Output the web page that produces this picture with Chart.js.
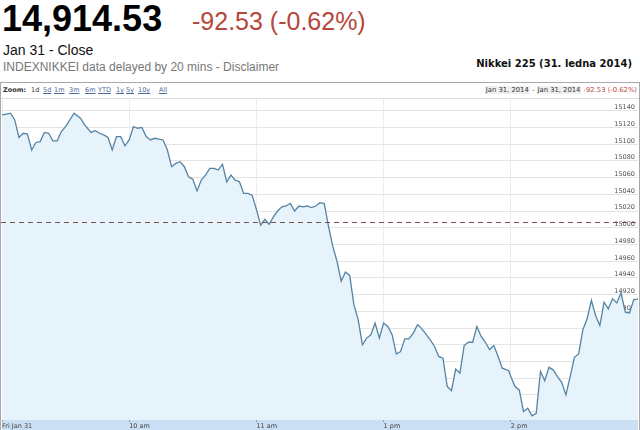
<!DOCTYPE html>
<html><head><meta charset="utf-8">
<script src="https://cdn.jsdelivr.net/npm/chart.js@4/dist/chart.umd.min.js"></script>
<style>
body{margin:0;width:640px;height:430px;overflow:hidden;background:#fff;font-family:"Liberation Sans",Arial,sans-serif;position:relative}
.a{position:absolute;white-space:nowrap}
.s{font-family:"DejaVu Sans",Verdana,sans-serif;font-size:6.5px;line-height:15px;top:83px;color:#333}
.r{font-size:6.8px}
.l{color:#4a6a9c;text-decoration:underline}
.box{background:#efefef;padding:0 1px}
#wrap{position:absolute;left:0;top:82px;width:638px;height:347px;border:1px solid #a8a8a8;border-bottom:none}
#hdr{position:absolute;left:0;top:0;width:638px;height:15px;border-bottom:1px solid #dedede}
#cv{position:absolute;left:0;top:16px}
</style></head><body>
<div class="a" style="left:2px;top:1px;font-size:36px;line-height:36px;font-weight:bold;color:#000">14,914.53</div>
<div class="a" style="left:192px;top:9px;font-size:25px;line-height:25px;color:#b5473b">-92.53 (-0.62%)</div>
<div class="a" style="left:3px;top:43px;font-size:14px;line-height:14px;color:#111">Jan 31 - Close</div>
<div class="a" style="left:3px;top:61px;font-size:12px;line-height:12px;color:#777">INDEXNIKKEI data delayed by 20 mins - Disclaimer</div>
<div class="a" style="right:8px;top:59px;font-family:'DejaVu Sans',Verdana,sans-serif;font-weight:bold;font-size:10px;line-height:10px;color:#111">Nikkei 225 (31. ledna 2014)</div>
<div id="wrap"><div id="hdr"></div><canvas id="cv" width="638" height="331" style="width:638px;height:331px"></canvas></div>
<div class="a s" style="left:3px;font-weight:bold">Zoom:</div>
<div class="a s" style="left:31px">1d</div>
<div class="a s l" style="left:43px">5d</div>
<div class="a s l" style="left:54px">1m</div>
<div class="a s l" style="left:69px">3m</div>
<div class="a s l" style="left:85px">6m</div>
<div class="a s l" style="left:98px">YTD</div>
<div class="a s l" style="left:116px">1y</div>
<div class="a s l" style="left:126px">5y</div>
<div class="a s l" style="left:138px">10y</div>
<div class="a s l" style="left:159px">All</div>
<div class="a s r" style="right:3px"><span class="box">Jan 31, 2014</span> - <span class="box">Jan 31, 2014</span> <span style="color:#b5473b">-92.53 (-0.62%)</span></div>
<script>
// trading minutes since 9:00 (lunch break removed)
const minutes = [0,2,4,6,8,10,12,14,16,18,20,22,24,26,28,30,34,37,39,42,44,46,48,50,52,54,56,58,60,62,64,66,68,70,72,74,76,78,80,82,84,86,88,90,92,94,96,98,100,102,104,106,108,110,112,114,116,118,120,122,124,126,128,130,132,134,136,138,140,142,144,146,148,150,152,154,156,158,160,162,164,166,168,170,172,174,176,178,180,182,184,186,188,190,192,194,196,197,199,202,204,206,208,210,212,214,216,218,220,222,224,226,228,230,232,234,236,239,240,242,244,246,248,250,252,254,256,258,260,262,264,266,268,270,272,274,276,278,280,282,284,286,288,290,292,294,296,298,300];
const prices = [15135,15136,15137,15129,15108,15113,15112,15093,15102,15103,15114,15113,15104,15104,15115,15121,15137,15131,15123,15114,15116,15113,15111,15108,15093,15109,15109,15098,15105,15121,15119,15120,15109,15105,15107,15106,15105,15093,15073,15077,15079,15073,15061,15058,15044,15057,15063,15071,15071,15069,15076,15055,15063,15057,15055,15041,15041,15039,15022,15003,15010,15004,15013,15020,15025,15026,15029,15020,15026,15025,15026,15024,15026,15030,15029,15002,14978,14960,14936,14947,14943,14908,14890,14860,14868,14872,14886,14868,14886,14882,14872,14849,14852,14867,14867,14874,14884,14882,14876,14866,14858,14846,14844,14810,14805,14831,14826,14859,14863,14863,14882,14870,14863,14854,14859,14846,14832,14829,14822,14810,14806,14780,14784,14775,14778,14828,14817,14833,14830,14822,14815,14800,14822,14845,14849,14878,14891,14913,14895,14883,14911,14903,14915,14910,14922,14899,14898,14914,14914.53];
const prevClose = 15007.06;
const xTickMinutes = [0,60,120,180,240];
const xTickLabels = ['Fri Jan 31','10 am','11 am','1 pm','2 pm'];
const yTickValues = [14780,14800,14820,14840,14860,14880,14900,14920,14940,14960,14980,15000,15020,15040,15060,15080,15100,15120,15140];

const prevClosePlugin = {
  id: 'prevClose',
  afterDatasetsDraw(chart) {
    const {ctx, chartArea, scales} = chart;
    const y = Math.round(scales.y.getPixelForValue(prevClose)) + 0.5;
    ctx.save();
    ctx.strokeStyle = '#7a5252';
    ctx.lineWidth = 1;
    ctx.setLineDash([5, 4]);
    ctx.beginPath();
    ctx.moveTo(0, y);
    ctx.lineTo(chartArea.right, y);
    ctx.stroke();
    ctx.restore();
  }
};

const noPad = s => { s.paddingTop = 0; s.paddingBottom = 0; s.paddingLeft = 0; s.paddingRight = 0; };

new Chart(document.getElementById('cv'), {
  type: 'line',
  data: {
    datasets: [{
      data: minutes.map((m, i) => ({x: m, y: prices[i]})),
      borderColor: '#5583a3',
      borderWidth: 1.3,
      pointRadius: 0,
      tension: 0,
      fill: 'start',
      backgroundColor: '#e6f3fb'
    }]
  },
  options: {
    responsive: false,
    animation: false,
    layout: {padding: {left: 1, right: 1, top: 0, bottom: 0}},
    plugins: {legend: {display: false}, tooltip: {enabled: false}},
    scales: {
      x: {
        type: 'linear', min: 0, max: 300,
        backgroundColor: '#cadff3',
        afterBuildTicks: s => { s.ticks = xTickMinutes.map(v => ({value: v})); },
        afterFit: s => { s.height = 10; noPad(s); },
        border: {display: false},
        grid: {color: '#ececec', drawTicks: true, tickLength: 2, tickColor: '#999'},
        ticks: {
          autoSkip: false, maxRotation: 0, align: 'start', padding: 0,
          color: '#444', font: {family: 'DejaVu Sans', size: 6.5},
          callback: v => xTickLabels[xTickMinutes.indexOf(v)]
        }
      },
      y: {
        position: 'right', min: 14770, max: 15154,
        afterBuildTicks: s => { s.ticks = yTickValues.map(v => ({value: v})); },
        afterFit: s => { s.width = 0; noPad(s); },
        border: {display: false},
        grid: {color: '#e4e4e4', drawTicks: false},
        ticks: {
          mirror: true, align: 'end', padding: -3, autoSkip: false,
          color: '#555', font: {family: 'DejaVu Sans', size: 6.5},
          callback: v => String(v)
        }
      }
    }
  },
  plugins: [prevClosePlugin]
});
</script>
</body></html>
